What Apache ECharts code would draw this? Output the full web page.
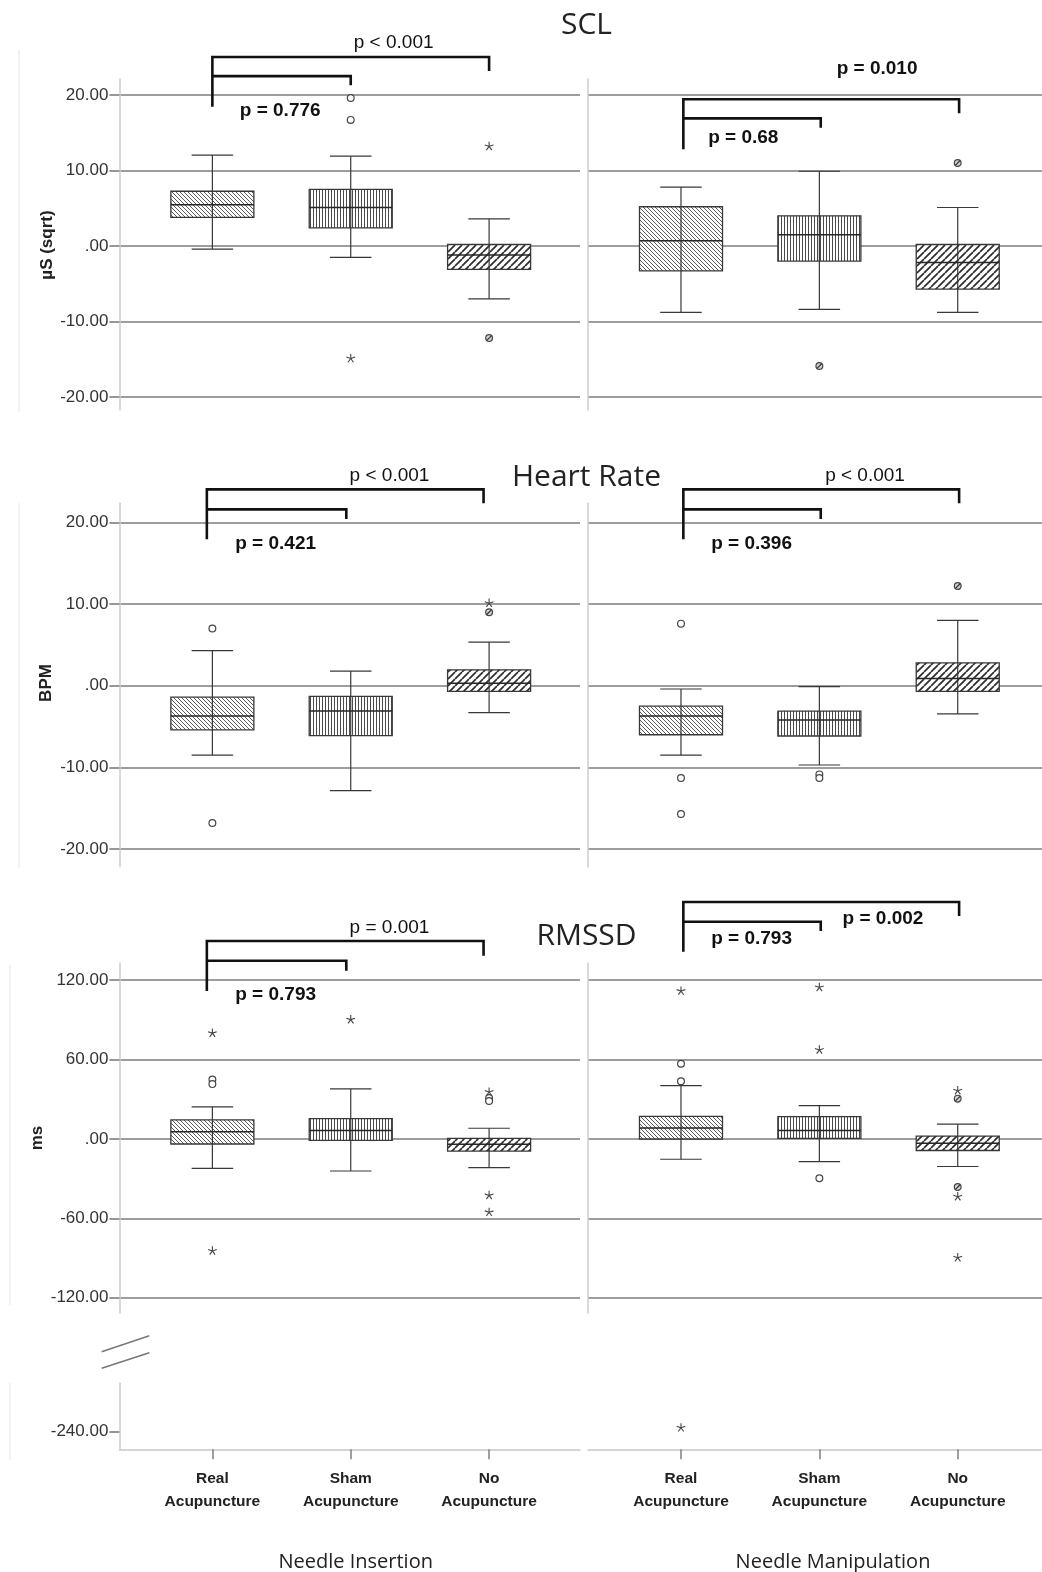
<!DOCTYPE html>
<html><head><meta charset="utf-8">
<script src="https://cdn.jsdelivr.net/npm/echarts@6/dist/echarts.min.js"></script>
<style>html,body{margin:0;padding:0;background:#fff}#c{width:1042px;height:1572px}</style>
</head><body><div id="c"></div>
<script>
// ---------- data ----------
const categories = ['Real\nAcupuncture', 'Sham\nAcupuncture', 'No\nAcupuncture'];
const conditions = ['Needle Insertion', 'Needle Manipulation'];
const measures = ['SCL', 'Heart Rate', 'RMSSD'];
const yAxisNames = ['µS (sqrt)', 'BPM', 'ms'];
const sclTicks = [-20, -10, 0, 10, 20];
const hrTicks = [-20, -10, 0, 10, 20];
const rmssdTicks = [-120, -60, 0, 60, 120];
const rmssdLowTicks = [-240];

// box stats per category: [lower whisker, Q1, median, Q3, upper whisker]
const sclInsertionBoxes = [[-0.4, 3.8, 5.45, 7.25, 12.05], [-1.5, 2.4, 5.1, 7.5, 11.9], [-7.0, -3.1, -1.2, 0.2, 3.6]];
const sclManipulationBoxes = [[-8.8, -3.3, 0.7, 5.2, 7.8], [-8.4, -2.0, 1.5, 4.0, 9.9], [-8.8, -5.7, -2.2, 0.2, 5.1]];
const hrInsertionBoxes = [[-8.5, -5.4, -3.7, -1.4, 4.3], [-12.85, -6.1, -3.1, -1.3, 1.8], [-3.3, -0.7, 0.3, 1.95, 5.35]];
const hrManipulationBoxes = [[-8.5, -6.0, -3.7, -2.5, -0.4], [-9.7, -6.15, -4.2, -3.1, -0.1], [-3.45, -0.7, 0.9, 2.8, 8.0]];
const rmssdInsertionBoxes = [[-22.2, -3.8, 5.5, 14.4, 24.2], [-24.2, -1.0, 6.5, 15.4, 37.8], [-21.7, -9.1, -4.0, 0.5, 8.1]];
const rmssdManipulationBoxes = [[-15.3, 0.0, 8.3, 17.1, 40.3], [-17.1, 0.5, 6.5, 16.9, 25.2], [-20.8, -8.7, -3.2, 2.2, 11.2]];

// outliers: [category index, value]
const sclInsertionCircles = [[1, 19.6], [1, 16.7]];
const sclInsertionSlashed = [[2, -12.2]];
const sclInsertionStars = [[1, -14.9], [2, 13.2]];
const sclManipulationCircles = [];
const sclManipulationSlashed = [[1, -15.9], [2, 11.0]];
const sclManipulationStars = [];
const hrInsertionCircles = [[0, 7.0], [0, -16.8]];
const hrInsertionSlashed = [[2, 9.0]];
const hrInsertionStars = [[2, 10.1]];
const hrManipulationCircles = [[0, 7.6], [0, -11.3], [0, -15.7], [1, -10.85], [1, -11.3]];
const hrManipulationSlashed = [[2, 12.2]];
const hrManipulationStars = [];
const rmssdInsertionCircles = [[0, 45.0], [0, 41.5], [2, 31.0], [2, 28.7]];
const rmssdInsertionSlashed = [];
const rmssdInsertionStars = [[0, 80.0], [0, -84.6], [1, 90.2], [2, 35.5], [2, -42.6], [2, -55.4]];
const rmssdManipulationCircles = [[0, 56.9], [0, 43.6], [1, -29.7]];
const rmssdManipulationSlashed = [[2, 30.5], [2, -36.3]];
const rmssdManipulationStars = [[0, 111.8], [0, -237], [1, 114.6], [1, 67.3], [2, 36.5], [2, -43.6], [2, -89.7]];

// p-values [inner (Real vs Sham), outer (Real vs No)] per condition
const sclPValues = [['p = 0.776', 'p < 0.001'], ['p = 0.68', 'p = 0.010']];
const hrPValues = [['p = 0.421', 'p < 0.001'], ['p = 0.396', 'p < 0.001']];
const rmssdPValues = [['p = 0.793', 'p = 0.001'], ['p = 0.793', 'p = 0.002']];

// ---------- layout (positions / styles) ----------
const FONT = "'Liberation Sans', Arial, sans-serif";
const TFONT = "'Open Sans', 'Noto Sans', sans-serif";
const colLayout = [{ left: 119.4, width: 460.6, xMax: 2.657 }, { left: 588, width: 454, xMax: 2.609 }];
const xMin = -0.672;
const rowLayout = [
  { top: 79, height: 331, min: -21.72, max: 22.12, ticks: sclTicks },
  { top: 503.3, height: 363.4, min: -22.15, max: 22.33, ticks: hrTicks },
  { top: 963, height: 350, min: -131.5, max: 133.0, ticks: rmssdTicks },
  { top: 1383.3, height: 66, min: -253.3, max: -203.4, ticks: rmssdLowTicks }
];
const bracketLayout = [
  [{ xs: [0, 1, 2], outer: 25.03, inner: 22.5, legL: 18.45, legOuter: 23.18, legInner: 21.3, labels: [[0.49, 17.8], [1.31, 26.85]], weights: ['bold', 'normal'] },
   { xs: [0.017, 1.01, 2.01], outer: 19.43, inner: 16.9, legL: 12.8, legOuter: 17.58, legInner: 15.67, labels: [[0.45, 14.26], [1.417, 23.3]], weights: ['bold', 'bold'] }],
  [{ xs: [-0.04, 0.968, 1.96], outer: 24.04, inner: 21.59, legL: 17.92, legOuter: 22.33, legInner: 20.4, labels: [[0.457, 17.22], [1.28, 25.58]], weights: ['bold', 'normal'] },
   { xs: [0.017, 1.01, 2.01], outer: 24.04, inner: 21.59, legL: 17.92, legOuter: 22.33, legInner: 20.4, labels: [[0.51, 17.22], [1.33, 25.58]], weights: ['bold', 'normal'] }],
  [{ xs: [-0.04, 0.968, 1.96], outer: 149.6, inner: 134.7, legL: 111.8, legOuter: 138.5, legInner: 127.2, labels: [[0.457, 108.3], [1.28, 159.2]], weights: ['bold', 'normal'] },
   { xs: [0.017, 1.01, 2.01], outer: 179.1, inner: 164.2, legL: 141.5, legOuter: 168.5, legInner: 157.2, labels: [[0.51, 150.4], [1.46, 166.0]], weights: ['bold', 'bold'] }]
];

// ---------- hatch patterns ----------
function makePattern(kind) {
  const c = document.createElement('canvas');
  const s = kind === 'back' ? 4 : kind === 'vert' ? 3 : 7;
  c.width = s; c.height = s;
  const ctx = c.getContext('2d');
  ctx.fillStyle = '#fff'; ctx.fillRect(0, 0, s, s);
  ctx.beginPath();
  if (kind === 'vert') {
    ctx.strokeStyle = '#4a4a4a'; ctx.lineWidth = 1;
    ctx.moveTo(1.5, 0); ctx.lineTo(1.5, s);
  } else if (kind === 'back') {
    ctx.strokeStyle = '#5a5a5a'; ctx.lineWidth = 1;
    for (const k of [-s, 0, s]) { ctx.moveTo(k, 0); ctx.lineTo(k + s, s); }
  } else {
    ctx.strokeStyle = '#2e2e2e'; ctx.lineWidth = 1.7;
    for (const k of [-s, 0, s]) { ctx.moveTo(k, s); ctx.lineTo(k + s, 0); }
  }
  ctx.stroke();
  return { image: c, repeat: 'repeat' };
}
const patterns = [makePattern('back'), makePattern('vert'), makePattern('fwd')];

// ---------- render functions ----------
function boxRender(params, api) {
  const cat = api.value(0);
  const lo = api.value(1), q1 = api.value(2), md = api.value(3), q3 = api.value(4), hi = api.value(5);
  const xc = api.coord([cat, md])[0];
  const bw = api.size([0.6, 0])[0];
  const cw = api.size([0.3, 0])[0];
  const y = v => api.coord([cat, v])[1];
  const ls = { stroke: '#383838', lineWidth: 1.2 };
  return {
    type: 'group', children: [
      { type: 'rect', shape: { x: xc - bw / 2, y: y(q3), width: bw, height: y(q1) - y(q3) }, style: { fill: patterns[cat], stroke: '#383838', lineWidth: 1.3 } },
      { type: 'line', shape: { x1: xc, y1: y(hi), x2: xc, y2: y(lo) }, style: ls },
      { type: 'line', shape: { x1: xc - cw / 2, y1: y(hi), x2: xc + cw / 2, y2: y(hi) }, style: ls },
      { type: 'line', shape: { x1: xc - cw / 2, y1: y(lo), x2: xc + cw / 2, y2: y(lo) }, style: ls },
      { type: 'line', shape: { x1: xc - bw / 2, y1: y(md), x2: xc + bw / 2, y2: y(md) }, style: { stroke: '#262626', lineWidth: 1.5 } }
    ]
  };
}
function outlierRender(params, api) {
  const p = api.coord([api.value(0), api.value(1)]);
  const k = api.value(2);
  if (k === 2) {
    const ch = [], r = 4.6;
    for (let i = 0; i < 5; i++) {
      const a = -Math.PI / 2 + i * 2 * Math.PI / 5;
      ch.push({ type: 'line', shape: { x1: p[0], y1: p[1], x2: p[0] + r * Math.cos(a), y2: p[1] + r * Math.sin(a) }, style: { stroke: '#444', lineWidth: 1.1 } });
    }
    return { type: 'group', children: ch };
  }
  const ch = [{ type: 'circle', shape: { cx: p[0], cy: p[1], r: 3.4 }, style: { fill: k === 1 ? '#d0d0d0' : '#fff', stroke: '#444', lineWidth: 1.2 } }];
  if (k === 1) ch.push({ type: 'line', shape: { x1: p[0] - 2.3, y1: p[1] + 2.3, x2: p[0] + 2.3, y2: p[1] - 2.3 }, style: { stroke: '#333', lineWidth: 1.2 } });
  return { type: 'group', children: ch };
}
function makeBracketRender(bl, pv) {
  return function (params, api) {
    const c = (x, v) => api.coord([x, v]);
    const [x0, x1, x2] = bl.xs;
    const st = { stroke: '#111', lineWidth: 2.6, fill: 'none', lineJoin: 'miter' };
    const outer = [c(x0, bl.legL), c(x0, bl.outer), c(x2, bl.outer), c(x2, bl.legOuter)];
    const inner = [c(x0, bl.inner), c(x1, bl.inner), c(x1, bl.legInner)];
    const ch = [
      { type: 'polyline', shape: { points: outer }, style: st },
      { type: 'polyline', shape: { points: inner }, style: st }
    ];
    pv.forEach((t, i) => {
      const pt = c(bl.labels[i][0], bl.labels[i][1]);
      ch.push({ type: 'text', x: pt[0], y: pt[1] - 1, style: { text: t, fill: '#111', font: bl.weights[i] + ' 19px ' + FONT, textAlign: 'center', textVerticalAlign: 'middle' } });
    });
    return { type: 'group', children: ch };
  };
}

// ---------- build option ----------
const boxSets = [[sclInsertionBoxes, sclManipulationBoxes], [hrInsertionBoxes, hrManipulationBoxes], [rmssdInsertionBoxes, rmssdManipulationBoxes]];
const outlierSets = [
  [[sclInsertionCircles, sclInsertionSlashed, sclInsertionStars], [sclManipulationCircles, sclManipulationSlashed, sclManipulationStars]],
  [[hrInsertionCircles, hrInsertionSlashed, hrInsertionStars], [hrManipulationCircles, hrManipulationSlashed, hrManipulationStars]],
  [[rmssdInsertionCircles, rmssdInsertionSlashed, rmssdInsertionStars], [rmssdManipulationCircles, rmssdManipulationSlashed, rmssdManipulationStars]]
];
const pSets = [sclPValues, hrPValues, rmssdPValues];
const BREAK_LIMIT = -150;

const grid = [], xAxis = [], yAxis = [], series = [];
const fmt = v => v === 0 ? '.00' : v.toFixed(2);
for (let r = 0; r < 4; r++) {
  for (let c = 0; c < 2; c++) {
    const R = rowLayout[r], C = colLayout[c];
    const gi = grid.length;
    grid.push({ left: C.left, width: C.width, top: R.top, height: R.height, outerBoundsMode: 'none' });
    const isBottom = r === 3;
    xAxis.push({
      gridIndex: gi, type: 'value', min: xMin, max: C.xMax, show: isBottom,
      axisLine: { show: true, onZero: false, lineStyle: { color: '#c8c8c8', width: 1.5 } },
      axisTick: { show: true, length: 10, customValues: [0, 1, 2], lineStyle: { color: '#808080', width: 1.5 } },
      axisLabel: { show: true, customValues: [0, 1, 2], formatter: v => categories[Math.round(v)], margin: 18, lineHeight: 23, fontSize: 15.5, fontWeight: 'bold', fontFamily: FONT, color: '#222' },
      splitLine: { show: false }
    });
    const left = c === 0;
    yAxis.push({
      gridIndex: gi, type: 'value', min: R.min, max: R.max,
      show: !(isBottom && !left),
      axisLine: { show: true, onZero: false, lineStyle: { color: '#cdcdcd', width: 1.5 } },
      axisTick: { show: left, length: 10, customValues: R.ticks, lineStyle: { color: '#7d7d7d', width: 1.6 } },
      axisLabel: { show: left, customValues: R.ticks, formatter: fmt, margin: 11, fontSize: 17, fontFamily: FONT, color: '#333' },
      splitLine: { show: !isBottom, lineStyle: { color: '#7d7d7d', width: 1.6 } }
    });
    const pr = r === 3 ? 2 : r;
    const sets = outlierSets[pr][c];
    const outl = [];
    sets.forEach((arr, kind) => arr.forEach(d => {
      const low = d[1] < BREAK_LIMIT;
      if ((r === 3) === low) outl.push([d[0], d[1], kind]);
    }));
    if (r < 3) {
      series.push({
        type: 'custom', xAxisIndex: gi, yAxisIndex: gi, renderItem: boxRender, clip: false, silent: true,
        encode: { x: 0, y: [1, 2, 3, 4, 5] },
        data: boxSets[r][c].map((b, i) => [i].concat(b))
      });
      series.push({
        type: 'custom', xAxisIndex: gi, yAxisIndex: gi, clip: false, silent: true,
        renderItem: makeBracketRender(bracketLayout[r][c], pSets[r][c]),
        data: [[0, bracketLayout[r][c].outer]]
      });
    }
    series.push({
      type: 'custom', xAxisIndex: gi, yAxisIndex: gi, renderItem: outlierRender, clip: false, silent: true,
      encode: { x: 0, y: 1 }, data: outl
    });
  }
}

const graphic = [];
const titleY = [25, 477, 936.7];
measures.forEach((m, i) => graphic.push({ type: 'text', x: 586.5, y: titleY[i], style: { text: m, font: 'normal 30px ' + TFONT, fill: '#222', textAlign: 'center', textVerticalAlign: 'middle' } }));
const yNamePos = [[47.5, 245], [46, 683], [37, 1138]];
yAxisNames.forEach((n, i) => graphic.push({ type: 'text', x: yNamePos[i][0], y: yNamePos[i][1], rotation: Math.PI / 2, style: { text: n, font: 'bold 17px ' + FONT, fill: '#222', textAlign: 'center', textVerticalAlign: 'middle' } }));
const condX = [355.7, 833];
conditions.forEach((n, i) => graphic.push({ type: 'text', x: condX[i], y: 1562, style: { text: n, font: 'normal 20px ' + TFONT, fill: '#222', textAlign: 'center', textVerticalAlign: 'middle' } }));
// axis break marks
graphic.push({ type: 'line', shape: { x1: 101.7, y1: 1351.7, x2: 149.3, y2: 1335.7 }, style: { stroke: '#777', lineWidth: 1.5 } });
graphic.push({ type: 'line', shape: { x1: 101.7, y1: 1368.3, x2: 149.3, y2: 1352.7 }, style: { stroke: '#777', lineWidth: 1.5 } });
// faint frame lines
[[19, 50, 412], [19, 503, 868], [10, 965, 1305], [10, 1383, 1460]].forEach(f => graphic.push({ type: 'line', shape: { x1: f[0], y1: f[1], x2: f[0], y2: f[2] }, style: { stroke: '#e6e6e6', lineWidth: 1 } }));

const chart = echarts.init(document.getElementById('c'), null, { renderer: 'canvas', width: 1042, height: 1572 });
chart.setOption({ animation: false, backgroundColor: '#fff', grid, xAxis, yAxis, series, graphic });
</script></body></html>
